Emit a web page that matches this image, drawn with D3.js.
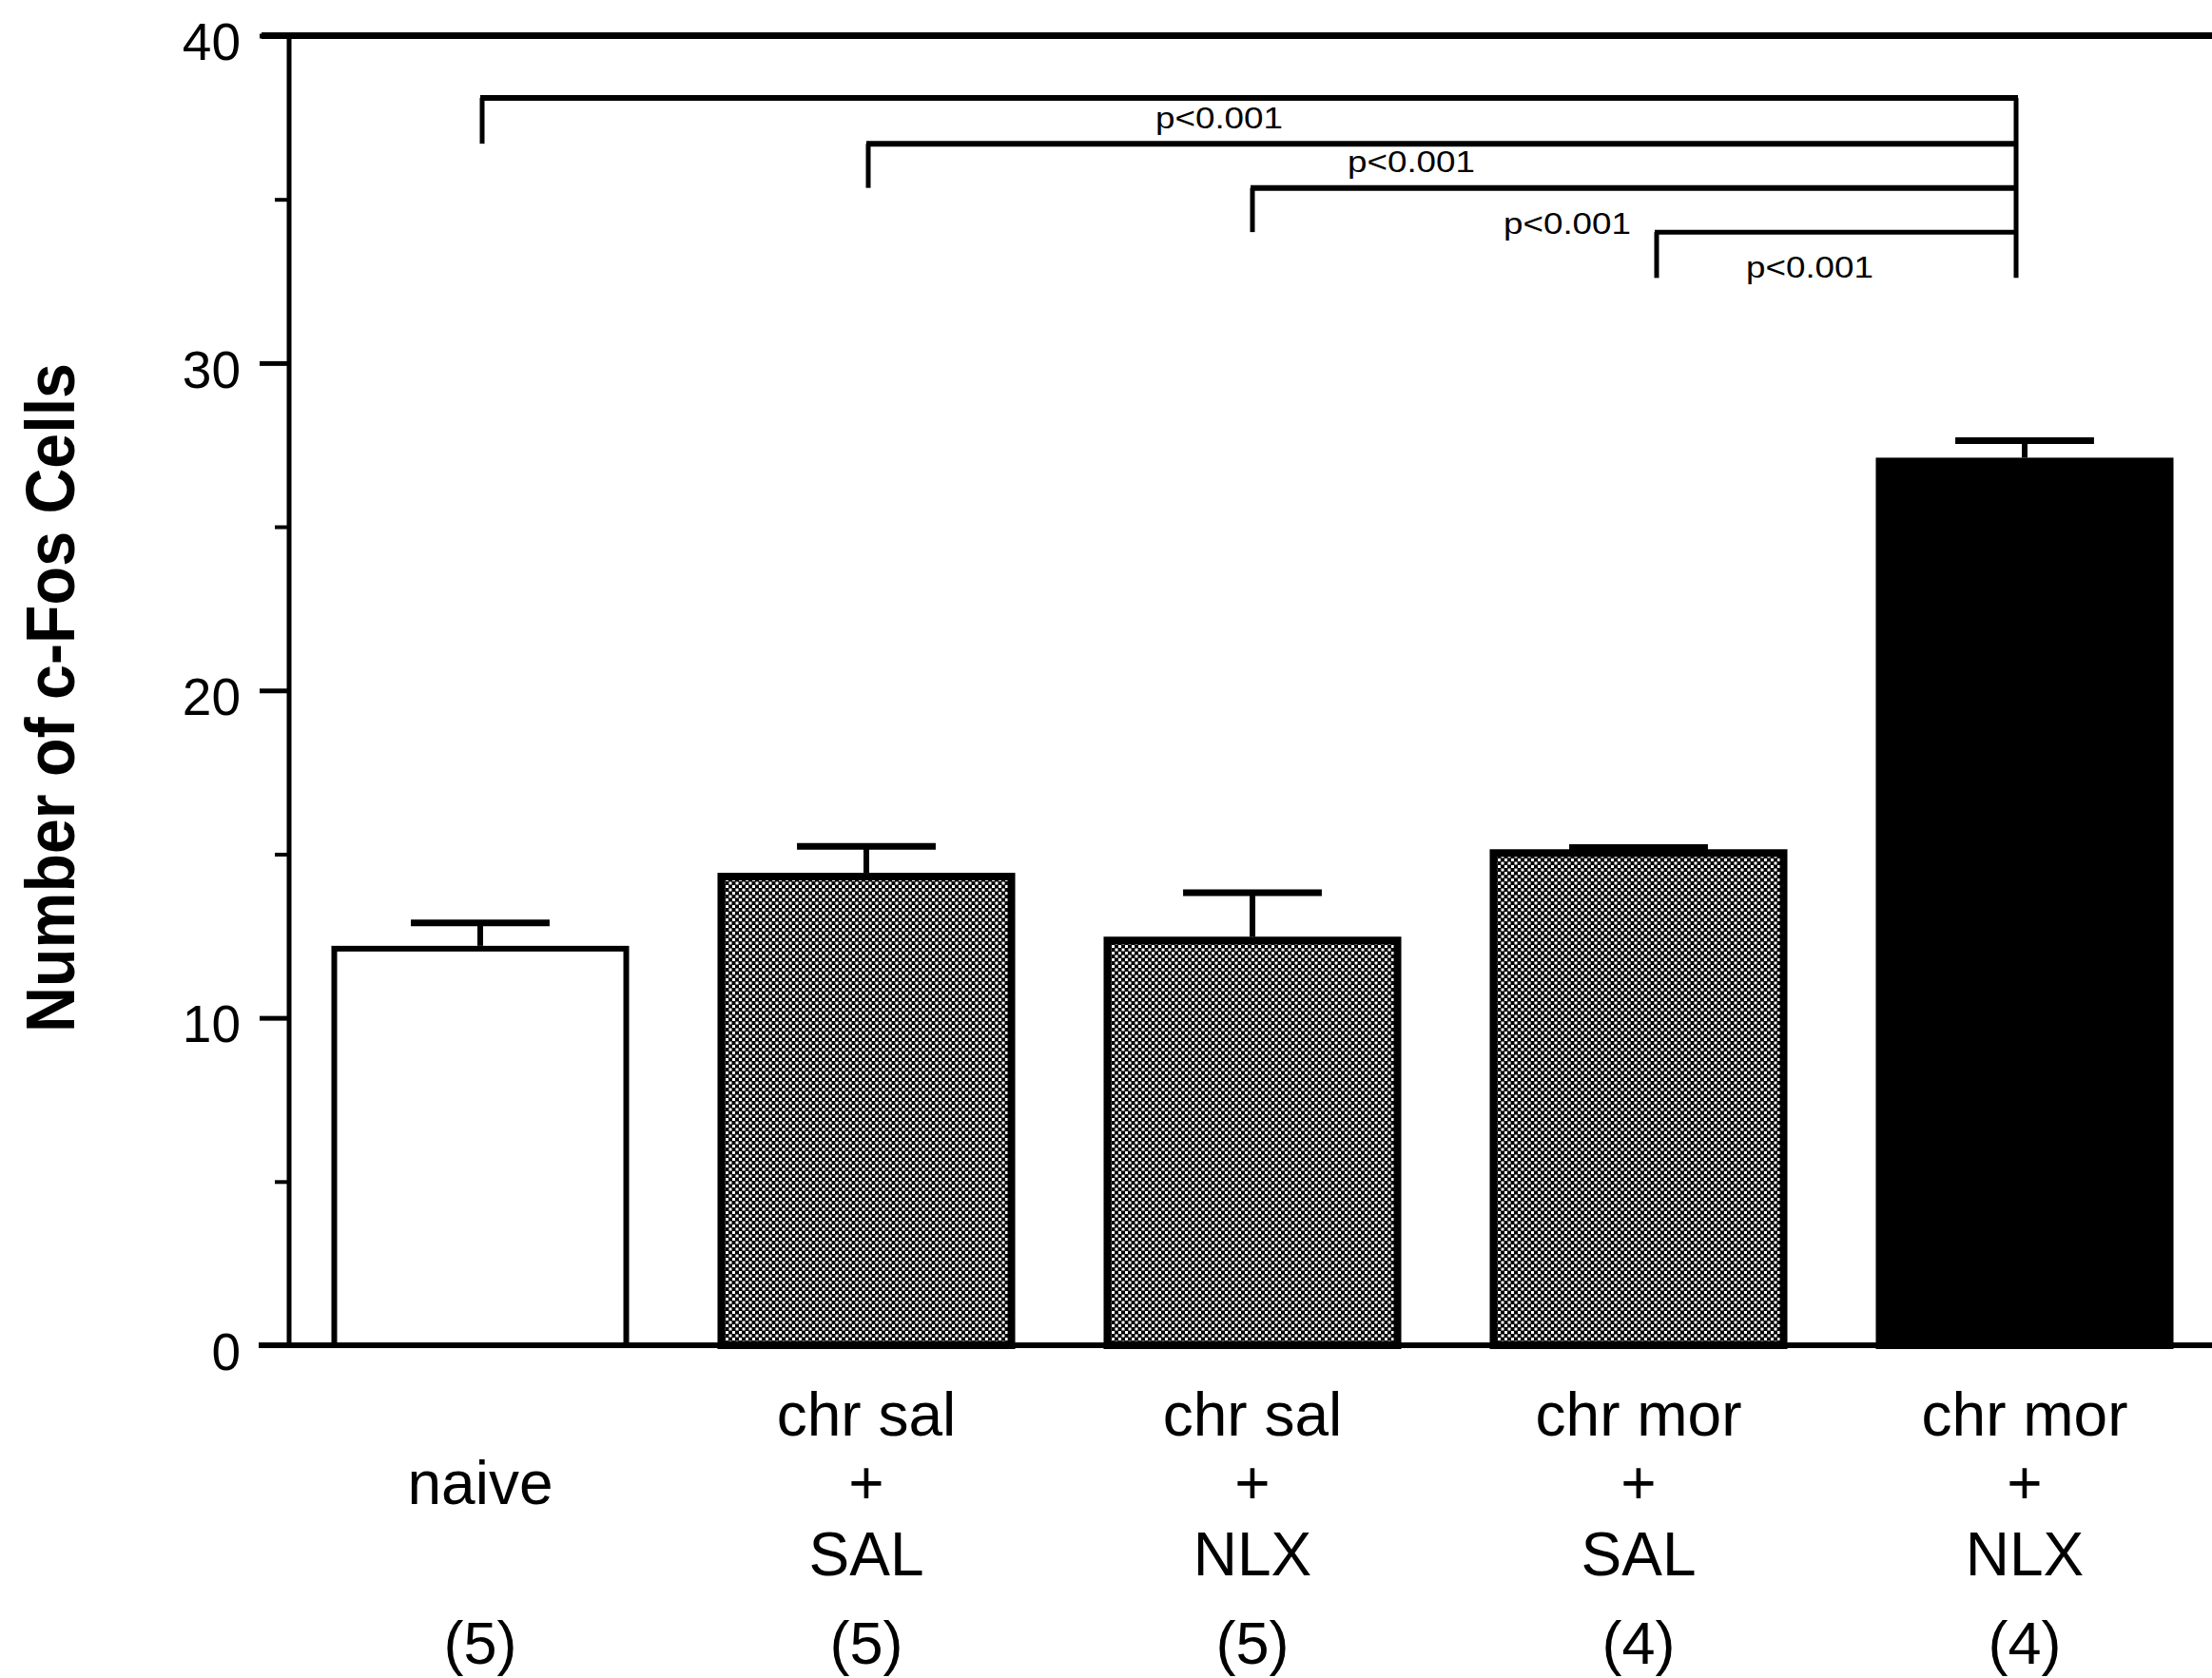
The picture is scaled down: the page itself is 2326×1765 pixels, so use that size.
<!DOCTYPE html>
<html>
<head>
<meta charset="utf-8">
<script src="https://cdn.jsdelivr.net/npm/d3@7"></script>
<style>
    body { margin: 0; background: #fff; }
    text { font-family: "Liberation Sans", Arial, Helvetica, sans-serif; fill: #000; }
</style>
</head>
<body>
<svg id="chart" width="2326" height="1765"></svg>
<script>
// groups, three label lines each, and group sizes
let groups = ["naive", "chrsal_sal", "chrsal_nlx", "chrmor_sal", "chrmor_nlx"];
let labelLines = [
    ["", "naive", ""],
    ["chr sal", "+", "SAL"],
    ["chr sal", "+", "NLX"],
    ["chr mor", "+", "SAL"],
    ["chr mor", "+", "NLX"]
];
let groupN = ["(5)", "(5)", "(5)", "(4)", "(4)"];

// mean number of c-Fos cells and SEM
let means = [12.2, 14.43, 12.48, 15.15, 27.11];
let sems = [0.7, 0.81, 1.34, 0.05, 0.52];

// y axis ticks
let majorTicks = [0, 10, 20, 30, 40];
let minorTicks = [5, 15, 25, 35];

// significance brackets: from group -> to group, level of the bar, bottom of its left leg
let sigFrom = [0, 1, 2, 3];
let sigTo = [4, 4, 4, 4];
let sigLevel = [38.1, 36.7, 35.35, 34.0];
let sigLegEnd = [36.7, 35.35, 34.0, 32.6];
let sigText = ["p<0.001", "p<0.001", "p<0.001", "p<0.001"];

let svg = d3.select('#chart');
let width = 2326;

let x = d3.scaleBand().domain(groups).range([302, 2332]).paddingInner(0.229).paddingOuter(0.1145);
let y = d3.scaleLinear().domain([0, 40]).range([1415, 37.5]);
let cx = (i) => x(groups[i]) + x.bandwidth() / 2;

// dotted grey fill used for the middle groups
let defs = svg.append("defs");
let pat = defs.append("pattern")
    .attr("id", "dots")
    .attr("patternUnits", "userSpaceOnUse")
    .attr("width", 7)
    .attr("height", 7);
pat.append("rect").attr("width", 7).attr("height", 7).attr("fill", "#000");
pat.append("rect").attr("x", 0).attr("y", 0).attr("width", 3).attr("height", 3).attr("fill", "#fff");
pat.append("rect").attr("x", 3.5).attr("y", 3.5).attr("width", 3).attr("height", 3).attr("fill", "#fff");

let fillOf = (i) => i === 0 ? "#fff" : (i === groups.length - 1 ? "#000" : "url(#dots)");
let strokeW = (i) => i === 0 ? 6 : 8;

// bars
svg.selectAll("rect.bar")
    .data(means)
    .enter()
    .append("rect")
    .attr("class", "bar")
    .attr("x", (d, i) => x(groups[i]) + strokeW(i) / 2)
    .attr("y", (d, i) => y(d) + strokeW(i) / 2)
    .attr("width", (d, i) => x.bandwidth() - strokeW(i))
    .attr("height", (d, i) => y(0) - y(d) - strokeW(i) / 2)
    .attr("fill", (d, i) => fillOf(i))
    .attr("stroke", "#000")
    .attr("stroke-width", (d, i) => strokeW(i));

// error bars
let capHalf = x.bandwidth() * 0.233;
svg.selectAll("line.stem")
    .data(means)
    .enter()
    .append("line")
    .attr("x1", (d, i) => cx(i))
    .attr("x2", (d, i) => cx(i))
    .attr("y1", (d) => y(d))
    .attr("y2", (d, i) => y(d + sems[i]))
    .attr("stroke", "#000")
    .attr("stroke-width", 6);

svg.selectAll("line.cap")
    .data(means)
    .enter()
    .append("line")
    .attr("x1", (d, i) => cx(i) - capHalf)
    .attr("x2", (d, i) => cx(i) + capHalf)
    .attr("y1", (d, i) => y(d + sems[i]))
    .attr("y2", (d, i) => y(d + sems[i]))
    .attr("stroke", "#000")
    .attr("stroke-width", 7);

// axes
let yAxis = d3.axisLeft(y).tickValues(majorTicks).tickSize(31).tickPadding(20);
let gy = svg.append("g")
    .attr("transform", "translate(304,0)")
    .call(yAxis);
gy.select(".domain").remove();
gy.selectAll(".tick line").attr("stroke", "#000").attr("stroke-width", 5);
gy.selectAll(".tick text")
    .attr("font-size", 55)
    .attr("font-family", "Liberation Sans, Arial, sans-serif")
    .attr("dy", "0.46em");

let gm = svg.append("g")
    .attr("transform", "translate(304,0)")
    .call(d3.axisLeft(y).tickValues(minorTicks).tickSize(15).tickFormat(""));
gm.select(".domain").remove();
gm.selectAll(".tick line").attr("stroke", "#000").attr("stroke-width", 4);

svg.append("line")
    .attr("x1", 304).attr("x2", 304)
    .attr("y1", y(40)).attr("y2", y(0))
    .attr("stroke", "#000").attr("stroke-width", 5);

svg.append("line")
    .attr("x1", 275).attr("x2", width)
    .attr("y1", y(40)).attr("y2", y(40))
    .attr("stroke", "#000").attr("stroke-width", 7);

svg.append("line")
    .attr("x1", 272).attr("x2", width)
    .attr("y1", y(0)).attr("y2", y(0))
    .attr("stroke", "#000").attr("stroke-width", 6);

// y axis title
svg.append("text")
    .attr("transform", "translate(78,734) rotate(-90)")
    .style("text-anchor", "middle")
    .attr("font-size", 72)
    .attr("font-weight", "bold")
    .attr("textLength", 704)
    .attr("lengthAdjust", "spacingAndGlyphs")
    .text("Number of c-Fos Cells");

// category labels
let rowY = [1510, 1582, 1657];
labelLines.forEach((lines, i) => {
    lines.forEach((t, r) => {
        if (!t) return;
        svg.append("text")
            .attr("x", cx(i))
            .attr("y", rowY[r])
            .style("text-anchor", "middle")
            .attr("font-size", 64)
            .text(t);
    });
});

svg.selectAll("text.n")
    .data(groupN)
    .enter()
    .append("text")
    .attr("class", "n")
    .attr("x", (d, i) => cx(i))
    .attr("y", 1750)
    .style("text-anchor", "middle")
    .attr("font-size", 63)
    .text((d) => d);

// significance brackets (small hand nudges so legs and labels sit as in the figure)
let legNudge = [2, 2, 0, 19];
let rightNudge = -9;
let pNudge = [[-35, 32], [-36, 30], [-75, 48], [-23, 48]];
let xr = cx(sigTo[0]) + rightNudge;
sigLevel.forEach((lvl, k) => {
    let xa = cx(sigFrom[k]) + legNudge[k];
    svg.append("line")
        .attr("x1", xa - 2).attr("x2", xr + 2)
        .attr("y1", y(lvl)).attr("y2", y(lvl))
        .attr("stroke", "#000").attr("stroke-width", k === 3 ? 5 : 6);
    svg.append("line")
        .attr("x1", xa).attr("x2", xa)
        .attr("y1", y(lvl)).attr("y2", y(sigLegEnd[k]))
        .attr("stroke", "#000").attr("stroke-width", 5);
    svg.append("text")
        .attr("x", (cx(sigFrom[k]) + cx(sigTo[k])) / 2 + pNudge[k][0])
        .attr("y", y(lvl) + pNudge[k][1])
        .style("text-anchor", "middle")
        .attr("font-size", 31)
        .attr("textLength", 134)
        .attr("lengthAdjust", "spacingAndGlyphs")
        .text(sigText[k]);
});

svg.append("line")
    .attr("x1", xr).attr("x2", xr)
    .attr("y1", y(d3.max(sigLevel))).attr("y2", y(d3.min(sigLegEnd)))
    .attr("stroke", "#000").attr("stroke-width", 5);
</script>
</body>
</html>
